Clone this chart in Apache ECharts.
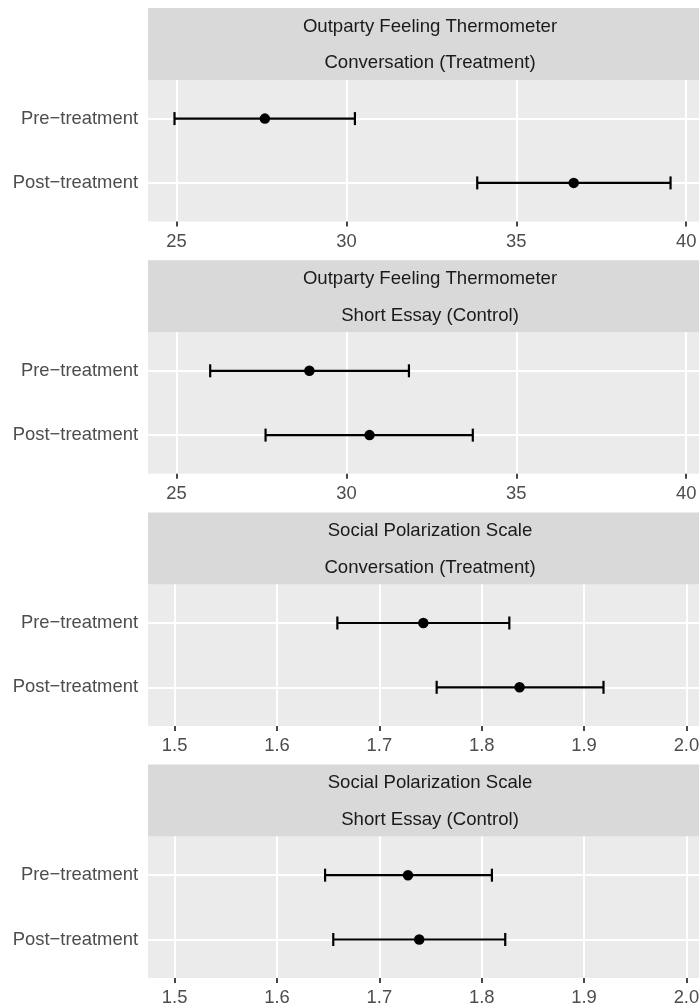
<!DOCTYPE html>
<html>
<head>
<meta charset="utf-8">
<script src="https://cdn.jsdelivr.net/npm/echarts@6/dist/echarts.min.js"></script>
<style>
html,body{margin:0;padding:0;background:#fff;overflow:hidden;}
#chart{width:730px;height:1008px;}
</style>
</head>
<body>
<div id="chart"></div>
<script>
// ---- data ----
const categories = ['Pre\u2212treatment', 'Post\u2212treatment'];
const stripLine1 = ['Outparty Feeling Thermometer', 'Outparty Feeling Thermometer', 'Social Polarization Scale', 'Social Polarization Scale'];
const stripLine2 = ['Conversation (Treatment)', 'Short Essay (Control)', 'Conversation (Treatment)', 'Short Essay (Control)'];
// per panel: [pre, post]
const meanValues = [[27.60, 36.69], [28.91, 30.68], [1.743, 1.837], [1.728, 1.739]];
const lowerValues = [[24.94, 33.85], [25.99, 27.62], [1.659, 1.756], [1.647, 1.655]];
const upperValues = [[30.25, 39.54], [31.84, 33.72], [1.827, 1.919], [1.810, 1.823]];
const xTicksFT = [25, 30, 35, 40];
const xTicksSP = [1.5, 1.6, 1.7, 1.8, 1.9, 2.0];
const xRangeFT = [24.16, 40.76];
const xRangeSP = [1.474, 2.025];

// ---- layout ----
const FONT = 'Liberation Sans, Arial, Helvetica, sans-serif';
const FS = 18.4;
const FS_STRIP = 18.6;
const period = 252.2;
const panelLeft = 148, panelWidth = 564;
const stripTop0 = 8, stripH = 72, panelH = 141.5;

const grids = [], xAxes = [], yAxes = [], series = [], graphics = [];
for (let i = 0; i < 4; i++) {
  const stripTop = stripTop0 + period * i;
  const panelTop = stripTop + stripH;
  const isFT = i < 2;
  const ticks = isFT ? xTicksFT : xTicksSP;
  const range = isFT ? xRangeFT : xRangeSP;
  grids.push({left: panelLeft, width: panelWidth, top: panelTop, height: panelH,
    show: true, backgroundColor: '#EBEBEB', borderWidth: 0, containLabel: false});
  xAxes.push({type: 'value', gridIndex: i, min: range[0], max: range[1],
    axisLine: {show: false, onZero: false},
    axisTick: {show: true, inside: false, length: 5, lineStyle: {color: '#333333', width: 1.8}, customValues: ticks},
    axisLabel: {show: true, color: '#4D4D4D', fontFamily: FONT, fontSize: FS, margin: 11,
      customValues: ticks, formatter: v => isFT ? String(Math.round(v)) : Number(v).toFixed(1)},
    splitLine: {show: true, lineStyle: {color: '#FFFFFF', width: 2}},
    minorSplitLine: {show: false}});
  yAxes.push({type: 'value', gridIndex: i, min: 0.4, max: 2.6,
    axisLine: {show: false},
    axisTick: {show: false, customValues: [1, 2]},
    axisLabel: {show: true, color: '#4D4D4D', fontFamily: FONT, fontSize: FS, margin: 10,
      customValues: [1, 2], formatter: v => categories[2 - Math.round(v)]},
    splitLine: {show: true, lineStyle: {color: '#FFFFFF', width: 2}}});
  const barData = [0, 1].map(k => [2 - k, lowerValues[i][k], upperValues[i][k]]);
  series.push({type: 'custom', xAxisIndex: i, yAxisIndex: i,
    encode: {x: [1, 2], y: 0},
    data: barData,
    renderItem: function (params, api) {
      const y = api.value(0), lo = api.value(1), hi = api.value(2);
      const a = api.coord([lo, y]), b = api.coord([hi, y]);
      const h = 6.5, st = {stroke: '#000000', lineWidth: 2.2};
      return {type: 'group', children: [
        {type: 'line', shape: {x1: a[0], y1: a[1], x2: b[0], y2: b[1]}, style: st},
        {type: 'line', shape: {x1: a[0], y1: a[1] - h, x2: a[0], y2: a[1] + h}, style: st},
        {type: 'line', shape: {x1: b[0], y1: b[1] - h, x2: b[0], y2: b[1] + h}, style: st}
      ]};
    }, z: 3});
  series.push({type: 'scatter', xAxisIndex: i, yAxisIndex: i, symbol: 'circle', symbolSize: 10.5,
    itemStyle: {color: '#000000', opacity: 1},
    data: [0, 1].map(k => [meanValues[i][k], 2 - k]), z: 4});
  graphics.push({type: 'rect', shape: {x: panelLeft, y: stripTop, width: panelWidth, height: stripH},
    style: {fill: '#D9D9D9'}, silent: true});
  graphics.push({type: 'text', x: panelLeft + panelWidth / 2, y: stripTop + 18.7,
    style: {text: stripLine1[i], fill: '#1A1A1A', font: FS_STRIP + 'px ' + FONT, align: 'center', verticalAlign: 'middle'}});
  graphics.push({type: 'text', x: panelLeft + panelWidth / 2, y: stripTop + 55.3,
    style: {text: stripLine2[i], fill: '#1A1A1A', font: FS_STRIP + 'px ' + FONT, align: 'center', verticalAlign: 'middle'}});
}

const chart = echarts.init(document.getElementById('chart'), null, {renderer: 'canvas'});
chart.setOption({
  animation: false,
  backgroundColor: '#FFFFFF',
  grid: grids, xAxis: xAxes, yAxis: yAxes, series: series, graphic: graphics
});
</script>
</body>
</html>
